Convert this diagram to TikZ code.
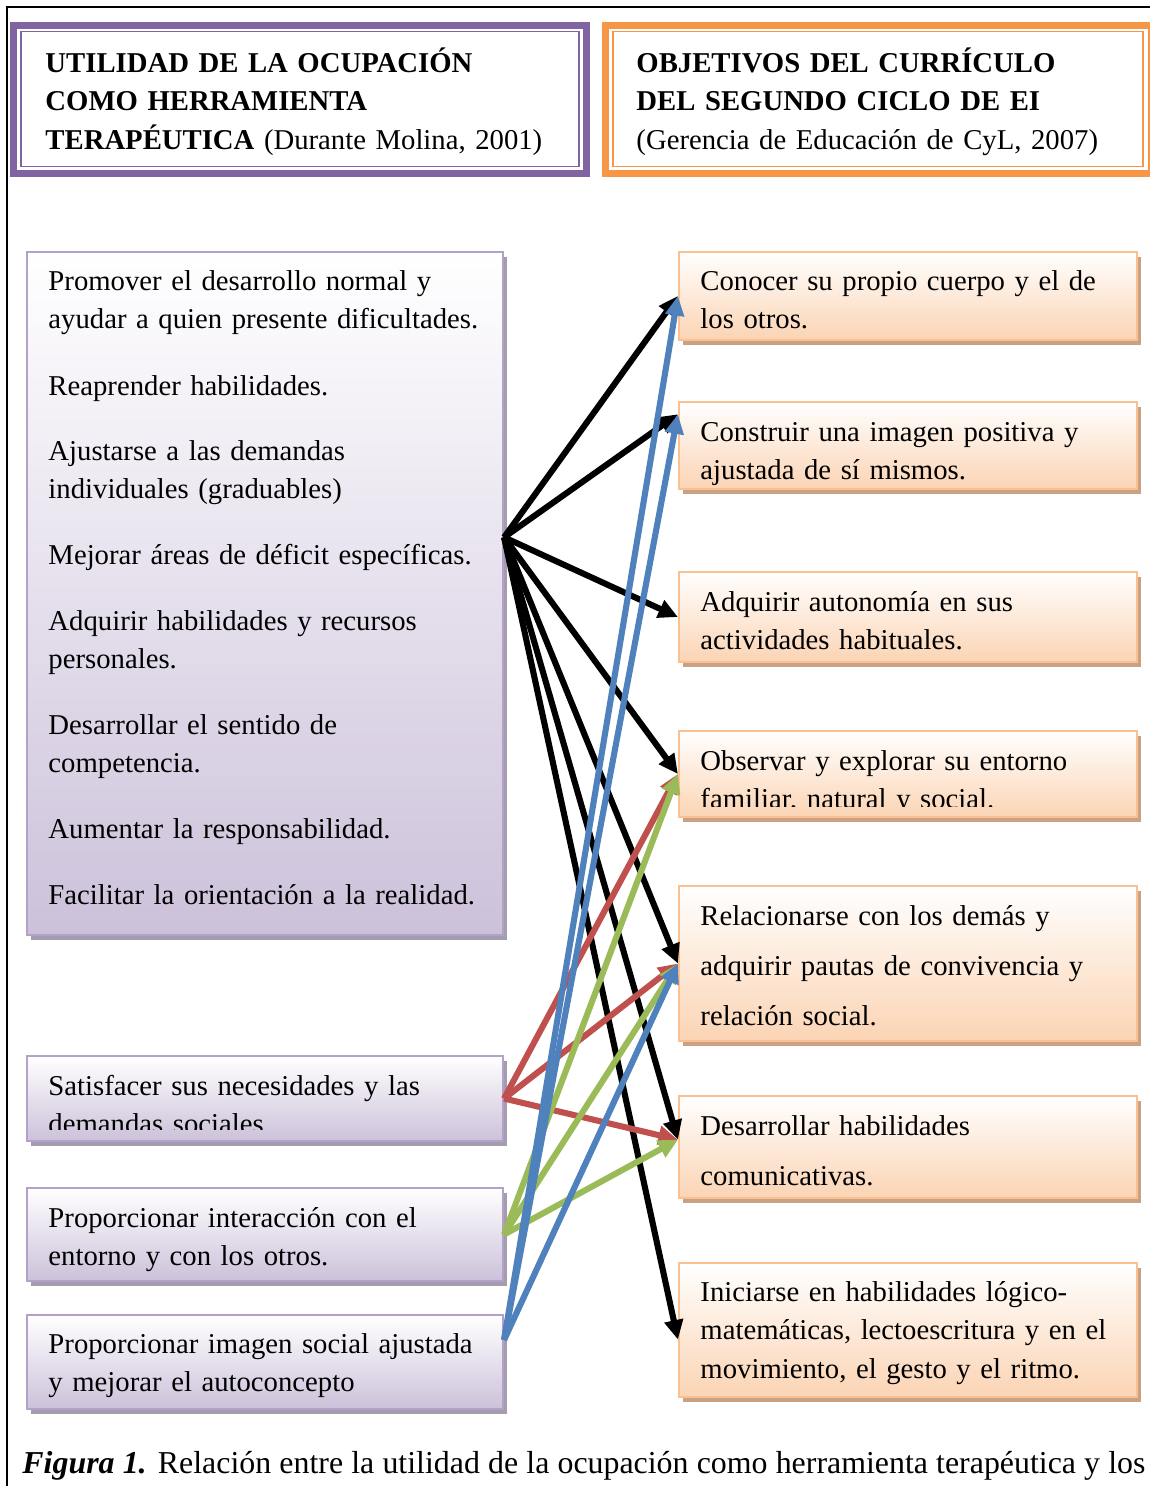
\documentclass[tikz,border=0pt]{standalone}
\usepackage{fontspec}
\setmainfont{Liberation Serif}
\usetikzlibrary{arrows.meta,calc,fit,shadows}

\definecolor{lila}{HTML}{8064A2}
\definecolor{lilaborde}{HTML}{B3A2C7}
\definecolor{lilafondo}{HTML}{CCC1DA}
\definecolor{lilasombra}{HTML}{A39DAD}
\definecolor{naranja}{HTML}{F79646}
\definecolor{naranjaborde}{HTML}{FAC090}
\definecolor{naranjafondo}{HTML}{FBD4B4}
\definecolor{naranjasombra}{HTML}{C9A285}
\definecolor{azul}{HTML}{4F81BD}
\definecolor{rojo}{HTML}{C0504D}
\definecolor{verde}{HTML}{9BBB59}

\tikzset{
  cajalila/.style={fit={#1}, inner sep=0pt, draw=lilaborde, line width=0.9pt,
    shading=axis, top color=white, bottom color=lilafondo,
    drop shadow={shadow xshift=1.7pt, shadow yshift=-2pt, fill=lilasombra, opacity=1}},
  cajanaranja/.style={fit={#1}, inner sep=0pt, draw=naranjaborde, line width=0.9pt,
    shading=axis, top color=white, bottom color=naranjafondo,
    drop shadow={shadow xshift=1.7pt, shadow yshift=-2pt, fill=naranjasombra, opacity=1}},
  texto/.style={anchor=base west, inner sep=0pt, text width=215pt, align=left,
    font=\fontsize{11.8}{16}\selectfont},
  flecha/.style={line width=2.5pt, -{Triangle[length=8pt,width=7.5pt]}}
}

\begin{document}
\begin{tikzpicture}[x=0.411pt,y=-0.411pt]
	\path[use as bounding box, fill=white] (0,0) rectangle (1150,1486);
	%frame
	\draw[line width=0.9pt] (7,1490) |- (1160,7);

	%headers
	\node[fit={(13.5,25.5)(586.5,173.5)}, inner sep=0pt, draw=lila, line width=2.9pt] (cab1) {};
	\node[fit={(21,31.5)(579,166.5)}, inner sep=0pt, draw=lila, line width=0.8pt] (cab1in) {};
	\node[fit={(605.5,25.5)(1152,173.5)}, inner sep=0pt, draw=naranja, line width=2.9pt] (cab2) {};
	\node[fit={(613,31.5)(1143,166.5)}, inner sep=0pt, draw=naranja, line width=0.8pt] (cab2in) {};
	\node[texto] (tit1) at (45,72) {\textbf{UTILIDAD DE LA OCUPACIÓN}\\\textbf{COMO HERRAMIENTA}\\\textbf{TERAPÉUTICA} (Durante Molina, 2001)};
	\node[texto] (tit2) at (636,72) {\textbf{OBJETIVOS DEL CURRÍCULO}\\\textbf{DEL SEGUNDO CICLO DE EI}\\(Gerencia de Educación de CyL, 2007)};

	%left boxes
	\node[cajalila={(27,252)(503,935)}] (big) {};
	\node[cajalila={(27,1056)(503,1141)}] (sat) {};
	\node[cajalila={(27,1188)(503,1281)}] (inter) {};
	\node[cajalila={(27,1315)(503,1409)}] (imagen) {};

	\node[texto] (p1) at (48,290) {Promover el desarrollo normal y\\ayudar a quien presente dificultades.};
	\node[texto] (p2) at (48,395) {Reaprender habilidades.};
	\node[texto] (p3) at (48,460) {Ajustarse a las demandas\\individuales (graduables)};
	\node[texto] (p4) at (48,564) {Mejorar áreas de déficit específicas.};
	\node[texto] (p5) at (48,630) {Adquirir habilidades y recursos\\personales.};
	\node[texto] (p6) at (48,734) {Desarrollar el sentido de\\competencia.};
	\node[texto] (p7) at (48,838) {Aumentar la responsabilidad.};
	\node[texto] (p8) at (48,904) {Facilitar la orientación a la realidad.};
	\begin{scope}
		\clip (27,1056) rectangle (503,1129);
		\node[texto] (q1) at (48,1095) {Satisfacer sus necesidades y las\\demandas sociales.};
	\end{scope}
	\node[texto] (q2) at (48,1227) {Proporcionar interacción con el\\entorno y con los otros.};
	\node[texto] (q3) at (48,1353) {Proporcionar imagen social ajustada\\y mejorar el autoconcepto};

	%right boxes
	\node[cajanaranja={(679,252)(1137,340)}] (conocer) {};
	\node[cajanaranja={(679,402)(1137,489)}] (construir) {};
	\node[cajanaranja={(679,572)(1137,662)}] (adquirir) {};
	\node[cajanaranja={(679,731)(1137,817)}] (observar) {};
	\node[cajanaranja={(679,886)(1137,1041)}] (relacionarse) {};
	\node[cajanaranja={(679,1096)(1137,1198)}] (desarrollar) {};
	\node[cajanaranja={(679,1263)(1137,1397)}] (iniciarse) {};

	\node[texto] (o1) at (700,290) {Conocer su propio cuerpo y el de\\los otros.};
	\node[texto] (o2) at (700,441) {Construir una imagen positiva y\\ajustada de sí mismos.};
	\node[texto] (o3) at (700,611) {Adquirir autonomía en sus\\actividades habituales.};
	\begin{scope}
		\clip (679,731) rectangle (1137,806);
		\node[texto] (o4) at (700,770) {Observar y explorar su entorno\\familiar, natural y social.};
	\end{scope}
	\node[texto, font=\fontsize{11.8}{20.6}\selectfont] (o5) at (700,925) {Relacionarse con los demás y\\adquirir pautas de convivencia y\\relación social.};
	\node[texto, font=\fontsize{11.8}{20.9}\selectfont] (o6) at (700,1135) {Desarrollar habilidades\\comunicativas.};
	\node[texto] (o7) at (700,1301) {Iniciarse en habilidades lógico-\\matemáticas, lectoescritura y en el\\movimiento, el gesto y el ritmo.};

	%caption
	\node[anchor=base west, inner sep=0pt, font=\fontsize{13.1}{16}\selectfont] (pie) at (22,1473) {\makebox[461.5pt][s]{\textbf{\textit{Figura 1.}} Relación entre la utilidad de la ocupación como herramienta terapéutica y los}};

	%arrows
	\coordinate (sal) at ($(big.north east)!0.418!(big.south east)$);
	\coordinate (salazul) at ($(imagen.north east)!0.27!(imagen.south east)$);
	\coordinate (llega2) at ($(construir.north west)!0.15!(construir.south west)$);
	\coordinate (llega6) at ($(desarrollar.north west)!0.43!(desarrollar.south west)$);
	\coordinate (llega7) at ($(iniciarse.north west)!0.57!(iniciarse.south west)$);
	\foreach \dest in {conocer.west,llega2,adquirir.west,observar.west,relacionarse.west,llega6,llega7}
		\draw[flecha] (sal) -- (\dest);
	\foreach \dest in {observar.west,relacionarse.west,llega6}
		\draw[flecha,rojo] (sat.east) -- (\dest);
	\foreach \dest in {observar.west,relacionarse.west,llega6}
		\draw[flecha,verde] (inter.east) -- (\dest);
	\foreach \dest in {conocer.west,llega2,relacionarse.west}
		\draw[flecha,azul] (salazul) -- (\dest);
\end{tikzpicture}
\end{document}
